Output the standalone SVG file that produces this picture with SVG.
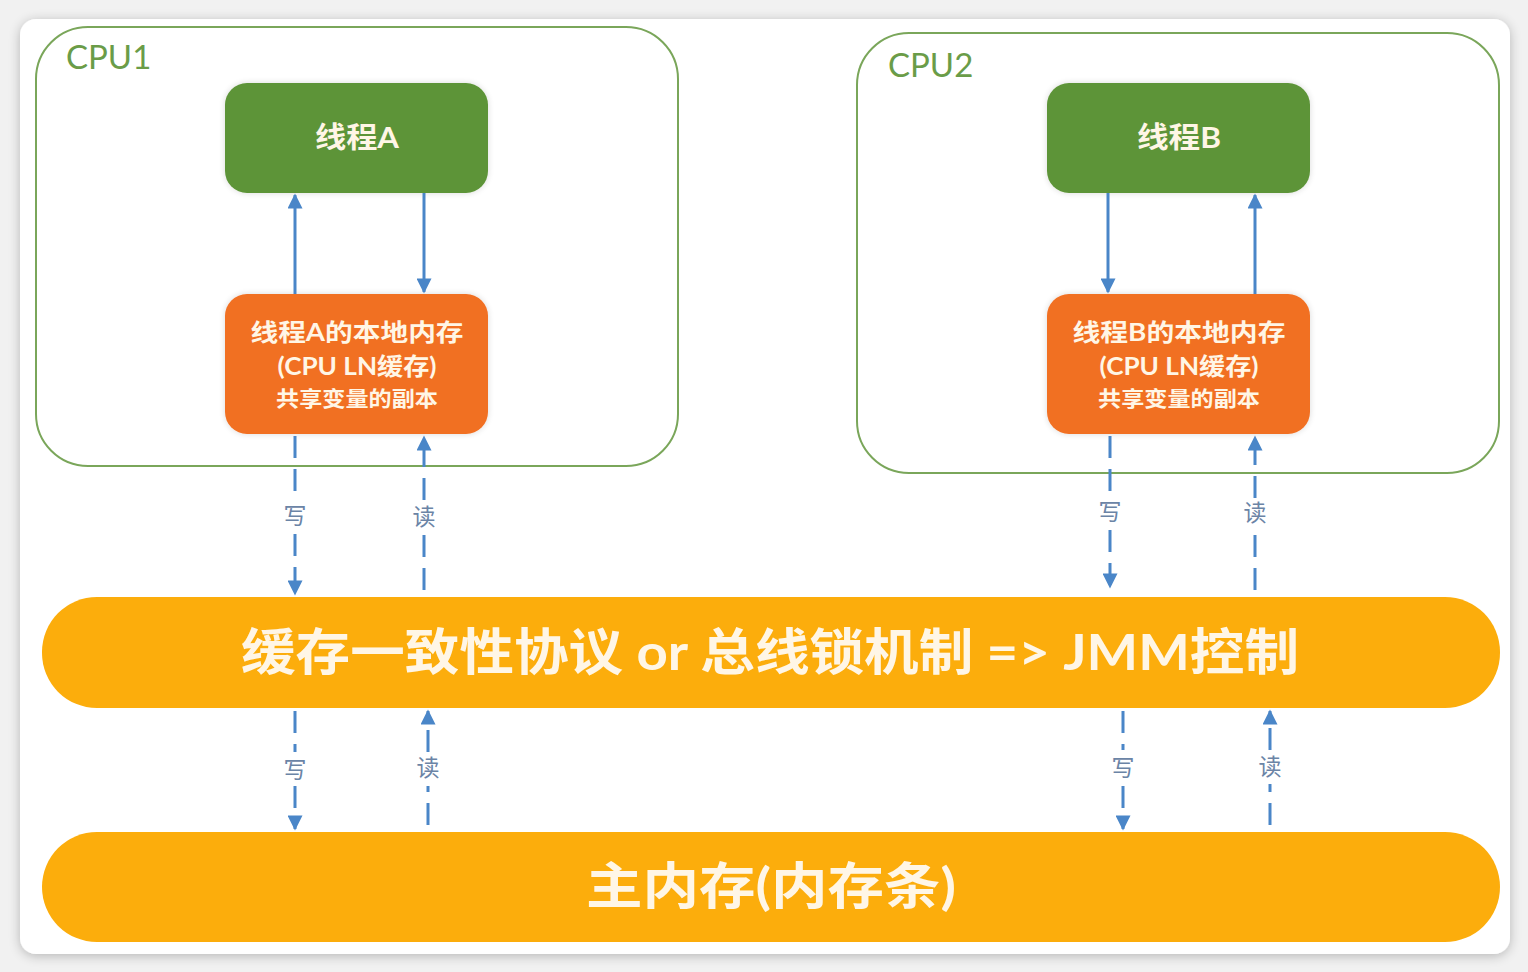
<svg xmlns="http://www.w3.org/2000/svg" width="1528" height="972" viewBox="0 0 1528 972">
<defs>
<filter id="sh" x="-5%" y="-5%" width="110%" height="110%"><feGaussianBlur in="SourceAlpha" stdDeviation="6"/><feOffset dy="2"/><feComponentTransfer><feFuncA type="linear" slope="0.25"/></feComponentTransfer><feMerge><feMergeNode/><feMergeNode in="SourceGraphic"/></feMerge></filter>
<filter id="glow" x="-10%" y="-10%" width="120%" height="120%"><feGaussianBlur in="SourceAlpha" stdDeviation="3"/><feComponentTransfer><feFuncA type="linear" slope="0.15"/></feComponentTransfer><feMerge><feMergeNode/><feMergeNode in="SourceGraphic"/></feMerge></filter>
<marker id="ah" viewBox="0 0 10 10" refX="9" refY="5" markerWidth="5.5" markerHeight="5" markerUnits="strokeWidth" orient="auto"><path d="M0,0 L10,5 L0,10 z" fill="#4a86c8"/></marker>
<style>
.cpu{fill:none;stroke:#7aa65a;stroke-width:2}
.cpul{font-family:Lato,"Noto Sans CJK SC",sans-serif;font-size:33px;fill:#6a9c48}
.thr{fill:#5d9438;filter:url(#glow)}
.loc{fill:#f16f22;filter:url(#glow)}
.bar{fill:#fcad0c}
.t{font-family:Lato,"Noto Sans CJK SC",sans-serif;font-weight:bold;fill:#fff6e6;text-anchor:middle}
.ln{stroke:#4a86c8;stroke-width:3;fill:none;marker-end:url(#ah)}
.dl{stroke:#4a86c8;stroke-width:3;fill:none;stroke-dasharray:22 11;marker-end:url(#ah)}
.lbl{font-family:"Noto Sans CJK SC",sans-serif;font-size:23px;fill:#6b84a6;text-anchor:middle}
</style>
</defs>
<rect width="1528" height="972" fill="#f1f1f1"/>
<rect x="20" y="19" width="1490" height="935" rx="16" fill="#ffffff" filter="url(#sh)"/>

<g id="cpu1"><rect class="cpu" x="36" y="27" width="642" height="439" rx="52"/><text class="cpul" x="66" y="69">CPU1</text></g>
<g id="cpu2"><rect class="cpu" x="857" y="33" width="642" height="440" rx="52"/><text class="cpul" x="888" y="77">CPU2</text></g>

<g id="threadA"><rect class="thr" x="225" y="83" width="263" height="110" rx="22"/><text class="t" x="357" y="148" font-size="29" textLength="84" lengthAdjust="spacingAndGlyphs">线程A</text></g>
<g id="threadB"><rect class="thr" x="1047" y="83" width="263" height="110" rx="22"/><text class="t" x="1179" y="148" font-size="29" textLength="84" lengthAdjust="spacingAndGlyphs">线程B</text></g>

<g id="localA"><rect class="loc" x="225" y="294" width="263" height="140" rx="22"/>
<text class="t" x="357" y="341" font-size="24" textLength="213" lengthAdjust="spacingAndGlyphs">线程A的本地内存</text>
<text class="t" x="357" y="375" font-size="24" textLength="159" lengthAdjust="spacingAndGlyphs">(CPU LN缓存)</text>
<text class="t" x="357" y="406" font-size="21" textLength="162" lengthAdjust="spacingAndGlyphs">共享变量的副本</text></g>
<g id="localB"><rect class="loc" x="1047" y="294" width="263" height="140" rx="22"/>
<text class="t" x="1179" y="341" font-size="24" textLength="213" lengthAdjust="spacingAndGlyphs">线程B的本地内存</text>
<text class="t" x="1179" y="375" font-size="24" textLength="159" lengthAdjust="spacingAndGlyphs">(CPU LN缓存)</text>
<text class="t" x="1179" y="406" font-size="21" textLength="162" lengthAdjust="spacingAndGlyphs">共享变量的副本</text></g>

<g id="cache"><rect class="bar" x="42" y="597" width="1458" height="111" rx="55"/>
<text class="t" x="770" y="670" font-size="50" textLength="1058" lengthAdjust="spacingAndGlyphs">缓存一致性协议 or 总线锁机制 =&gt; JMM控制</text></g>
<g id="mainmem"><rect class="bar" x="42" y="832" width="1458" height="110" rx="55"/>
<text class="t" x="771" y="904" font-size="50" textLength="370" lengthAdjust="spacingAndGlyphs">主内存(内存条)</text></g>

<g id="connectors">
<line class="ln" x1="295" y1="294" x2="295" y2="195"/>
<line class="ln" x1="424" y1="193" x2="424" y2="292"/>
<line class="ln" x1="1108" y1="193" x2="1108" y2="292"/>
<line class="ln" x1="1255" y1="294" x2="1255" y2="195"/>

<path class="dl" d="M295,436 V498 M295,534 V594"/>
<path class="dl" d="M424,590 V532 M424,500 V437"/>
<path class="dl" d="M1110,436 V496 M1110,530 V587"/>
<path class="dl" d="M1255,590 V530 M1255,498 V437"/>

<path class="dl" d="M295,711 V752 M295,786 V829"/>
<path class="dl" d="M428,825 V786 M428,752 V711"/>
<path class="dl" d="M1123,711 V750 M1123,786 V829"/>
<path class="dl" d="M1270,825 V784 M1270,750 V711"/>

<text class="lbl" x="295" y="524">写</text>
<text class="lbl" x="424" y="525">读</text>
<text class="lbl" x="1110" y="520">写</text>
<text class="lbl" x="1255" y="521">读</text>
<text class="lbl" x="295" y="778">写</text>
<text class="lbl" x="428" y="776">读</text>
<text class="lbl" x="1123" y="776">写</text>
<text class="lbl" x="1270" y="775">读</text>
</g>
</svg>
